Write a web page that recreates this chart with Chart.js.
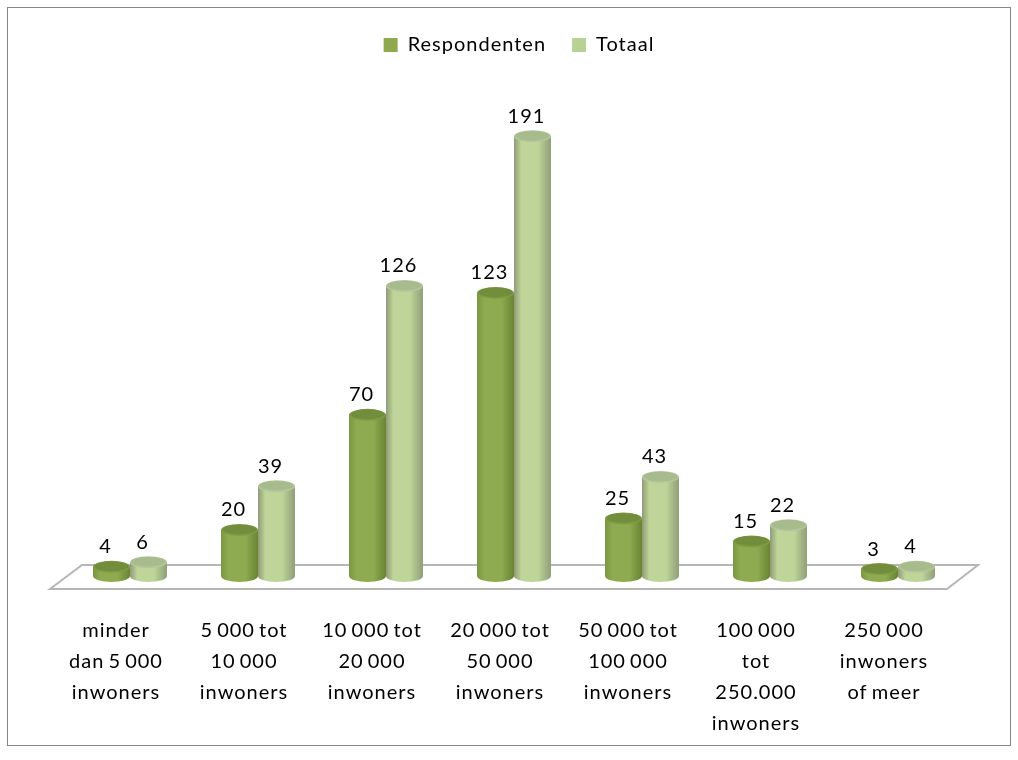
<!DOCTYPE html>
<html>
<head>
<meta charset="utf-8">
<style>html,body{margin:0;padding:0;background:#fff}canvas{display:block}</style>
<script src="https://cdn.jsdelivr.net/npm/chart.js@4/dist/chart.umd.min.js"></script>
</head>
<body>
<div style="width:1018px;height:760px"><canvas id="c" width="1018" height="760"></canvas></div>
<script>
const categories = [
  ["minder","dan 5 000","inwoners"],
  ["5 000 tot","10 000","inwoners"],
  ["10 000 tot","20 000","inwoners"],
  ["20 000 tot","50 000","inwoners"],
  ["50 000 tot","100 000","inwoners"],
  ["100 000","tot","250.000","inwoners"],
  ["250 000","inwoners","of meer"]
];
const respondenten = [4,20,70,123,25,15,3];
const totaal = [6,39,126,191,43,22,4];
const FONT = "Lato, Carlito, sans-serif";
const palettes = [
  {edgeL:'#7b9640',mid:'#8fab52',edgeR:'#6a8434',top:'#728e3c',rim:'#7f9b44'},
  {edgeL:'#8e9c78',mid:'#bfd498',edgeR:'#8f9e78',top:'#a8bb8d',rim:'#b4c79a'}
];
function setSpacing(ctx){ ctx.letterSpacing='1px'; ctx.wordSpacing='-2px'; }
function cylinder(ctx, el, p){
  const w = el.width, x0 = el.x - w/2, x1 = el.x + w/2, ry = 6;
  const g = ctx.createLinearGradient(x0,0,x1,0);
  g.addColorStop(0,p.edgeL);
  g.addColorStop(0.2,p.mid);
  g.addColorStop(0.65,p.mid);
  g.addColorStop(1,p.edgeR);
  ctx.fillStyle = g;
  ctx.beginPath();
  ctx.moveTo(x0,el.y);
  ctx.lineTo(x0,el.base);
  ctx.ellipse(el.x,el.base,w/2,ry,0,Math.PI,0,true);
  ctx.lineTo(x1,el.y);
  ctx.closePath();
  ctx.fill();
  ctx.fillStyle = p.rim;
  ctx.beginPath();ctx.ellipse(el.x,el.y,w/2,ry,0,0,Math.PI*2);ctx.fill();
  ctx.fillStyle = p.top;
  ctx.beginPath();ctx.ellipse(el.x,el.y-0.5,w/2-1.5,ry-1.2,0,0,Math.PI*2);ctx.fill();
}
const decor = {
  id:'decor',
  beforeLayout(chart){ setSpacing(chart.ctx); },
  afterLayout(chart){ chart.legend.left+=5; chart.legend.right+=5; },
  beforeDraw(chart){
    const ctx = chart.ctx, a = chart.chartArea;
    setSpacing(ctx);
    ctx.save();
    ctx.strokeStyle='#868686';ctx.lineWidth=1;
    ctx.strokeRect(7.5,7.5,1003,738);
    ctx.strokeStyle='#b6b6b6';ctx.lineWidth=2;ctx.lineJoin='miter';
    ctx.beginPath();
    ctx.moveTo(a.left-16,a.bottom+13);
    ctx.lineTo(a.left+16,a.bottom-11);
    ctx.lineTo(a.right+16,a.bottom-11);
    ctx.lineTo(a.right-15,a.bottom+13);
    ctx.closePath();
    ctx.stroke();
    ctx.restore();
  },
  beforeDatasetDraw(chart,args){
    const meta = args.meta, ctx = chart.ctx;
    ctx.save();
    ctx.filter='blur(0.6px)';
    meta.data.forEach(el=>cylinder(ctx,el,palettes[args.index]));
    ctx.restore();
    return false;
  },
  afterDatasetsDraw(chart){
    const ctx = chart.ctx;
    ctx.save();
    ctx.font = "20px "+FONT;
    ctx.fillStyle='#000';ctx.textAlign='center';ctx.textBaseline='middle';
    chart.data.datasets.forEach((ds,i)=>{
      chart.getDatasetMeta(i).data.forEach((el,j)=>{
        ctx.fillText(String(ds.data[j]),el.x-6,el.y-20);
      });
    });
    ctx.restore();
  }
};
new Chart(document.getElementById('c'),{
  type:'bar',
  data:{labels:categories,datasets:[
    {label:'Respondenten',data:respondenten,backgroundColor:'#8fa94f'},
    {label:'Totaal',data:totaal,backgroundColor:'#bad196'}
  ]},
  options:{
    responsive:false,animation:false,
    events:[],
    layout:{padding:{left:66,right:56,top:9,bottom:0}},
    datasets:{bar:{categoryPercentage:0.578,barPercentage:1}},
    plugins:{
      tooltip:{enabled:false},
      legend:{position:'top',align:'center',
        labels:{boxWidth:14,boxHeight:14,padding:26,color:'#000',font:{family:FONT,size:20}}}
    },
    scales:{
      x:{
        grid:{display:false,drawTicks:false},border:{display:false},
        afterFit(s){s.height=184;},
        ticks:{color:'#000',font:{family:FONT,size:20,lineHeight:1.55},padding:39,labelOffset:-14,maxRotation:0,minRotation:0,autoSkip:false}
      },
      y:{display:false,min:0,max:222}
    }
  },
  plugins:[decor]
});
</script>
</body>
</html>
